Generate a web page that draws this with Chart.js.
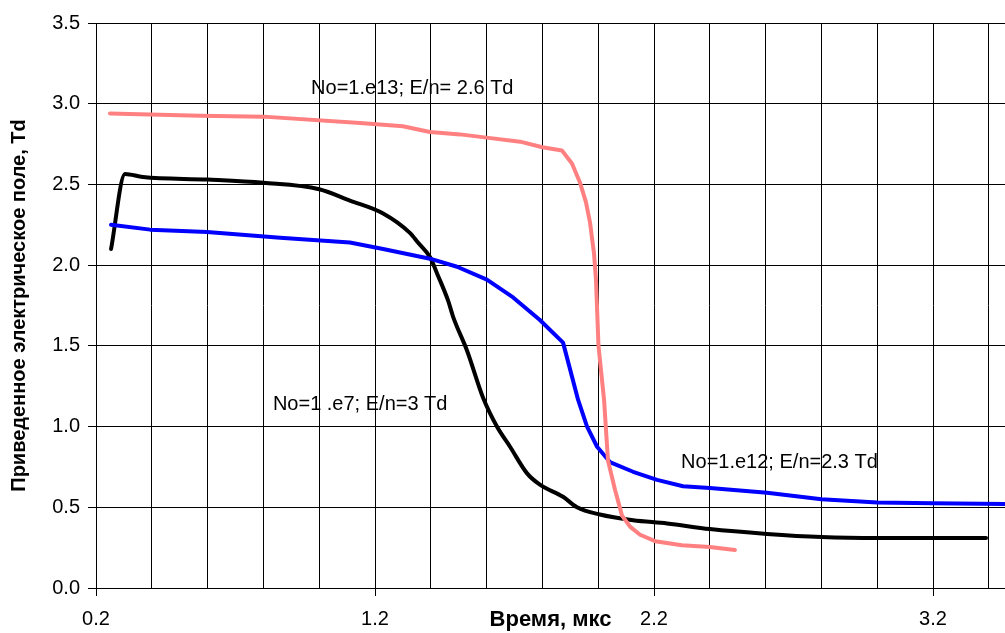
<!DOCTYPE html>
<html>
<head>
<meta charset="utf-8">
<script src="https://cdn.jsdelivr.net/npm/chart.js@4/dist/chart.umd.min.js"></script>
<style>
html,body{margin:0;padding:0;background:#fff;}
#wrap{width:1005px;height:633px;position:relative;}
</style>
</head>
<body>
<div id="wrap"><canvas id="c" width="1005" height="633"></canvas></div>
<script>
// ---- data ----
const blackX = [0.254, 0.304, 0.368, 0.60, 0.80, 1.00, 1.11, 1.229, 1.325, 1.354, 1.397, 1.422, 1.462, 1.480, 1.530, 1.587, 1.637, 1.684, 1.745, 1.791, 1.874, 1.924, 2.006, 2.125, 2.247, 2.40, 2.605, 2.80, 3.00, 3.20, 3.39];
const blackY = [2.10, 2.565, 2.546, 2.53, 2.51, 2.47, 2.40, 2.32, 2.20, 2.14, 2.05, 1.95, 1.78, 1.68, 1.47, 1.18, 1.00, 0.875, 0.71, 0.64, 0.565, 0.50, 0.455, 0.42, 0.40, 0.365, 0.335, 0.316, 0.31, 0.31, 0.31];

const blueX = [0.254, 0.394, 0.598, 0.86, 1.11, 1.229, 1.397, 1.494, 1.601, 1.695, 1.791, 1.874, 1.928, 1.96, 1.996, 2.042, 2.125, 2.211, 2.304, 2.40, 2.605, 2.80, 3.00, 3.20, 3.50];
const blueY = [2.25, 2.22, 2.205, 2.17, 2.14, 2.10, 2.04, 1.99, 1.91, 1.80, 1.66, 1.52, 1.165, 1.00, 0.875, 0.78, 0.72, 0.67, 0.63, 0.62, 0.59, 0.55, 0.53, 0.525, 0.52];

const pinkX = [0.25, 0.573, 0.80, 1.146, 1.30, 1.397, 1.505, 1.60, 1.72, 1.80, 1.87, 1.906, 1.935, 1.956, 1.971, 1.985, 1.992, 2.001, 2.021, 2.035, 2.06, 2.085, 2.114, 2.15, 2.204, 2.30, 2.40, 2.49];
const pinkY = [2.94, 2.925, 2.92, 2.88, 2.86, 2.825, 2.81, 2.79, 2.765, 2.73, 2.71, 2.63, 2.51, 2.39, 2.26, 2.07, 1.91, 1.50, 1.165, 0.79, 0.61, 0.45, 0.38, 0.33, 0.29, 0.265, 0.254, 0.235];

const xTickValues = [0.2, 0.4, 0.6, 0.8, 1.0, 1.2, 1.4, 1.6, 1.8, 2.0, 2.2, 2.4, 2.6, 2.8, 3.0, 3.2, 3.4];
const xLabelValues = [0.2, 1.2, 2.2, 3.2];

const annotations = [
  {text: 'No=1.e13; E/n= 2.6 Td', x: 0.971, y: 3.097},
  {text: 'No=1 .e7; E/n=3 Td', x: 0.834, y: 1.134},
  {text: 'No=1.e12; E/n=2.3 Td', x: 2.297, y: 0.78}
];

const FONT = "'Liberation Sans', Arial, sans-serif";

function pts(xs, ys) { return xs.map((x, i) => ({x: x, y: ys[i]})); }
function isLabeled(v) { return xLabelValues.some(l => Math.abs(l - v) < 1e-6); }

const annotationPlugin = {
  id: 'annot',
  afterDatasetsDraw(chart) {
    const ctx = chart.ctx;
    const xs = chart.scales.x, ys = chart.scales.y;
    ctx.save();
    ctx.font = '20px ' + FONT;
    ctx.fillStyle = '#000';
    ctx.textAlign = 'left';
    ctx.textBaseline = 'middle';
    annotations.forEach(a => {
      ctx.fillText(a.text, xs.getPixelForValue(a.x), ys.getPixelForValue(a.y));
    });
    ctx.restore();
  }
};

new Chart(document.getElementById('c'), {
  type: 'line',
  data: {
    datasets: [
      {data: pts(pinkX, pinkY), borderColor: '#FF8080', borderWidth: 4, tension: 0},
      {data: pts(blueX, blueY), borderColor: '#0000FF', borderWidth: 4, tension: 0},
      {data: pts(blackX, blackY), borderColor: '#000000', borderWidth: 4, cubicInterpolationMode: 'monotone'}
    ]
  },
  options: {
    responsive: false,
    animation: false,
    parsing: false,
    elements: {point: {radius: 0}, line: {borderCapStyle: 'round', borderJoinStyle: 'round'}},
    layout: {padding: {top: 23, left: 0, right: 0, bottom: 0}},
    plugins: {legend: {display: false}, tooltip: {enabled: false}},
    scales: {
      x: {
        type: 'linear',
        min: 0.2,
        max: 3.458,
        afterBuildTicks(scale) { scale.ticks = xTickValues.map(v => ({value: v})); },
        afterFit(scale) { scale.height = 45; },
        ticks: {
          autoSkip: false, maxRotation: 0, minRotation: 0,
          color: '#000', padding: 11,
          font: {family: FONT, size: 20},
          callback: (v) => isLabeled(v) ? v.toFixed(1) : ''
        },
        grid: {
          color: '#000', lineWidth: 1, tickLength: 8,
          tickColor: (ctx) => (ctx.tick && isLabeled(ctx.tick.value)) ? '#000' : 'rgba(0,0,0,0)'
        },
        border: {display: true, color: '#000', width: 1},
        title: {
          display: true, text: 'Время, мкс', color: '#000',
          font: {family: FONT, size: 22, weight: 'bold'},
          padding: {top: 0, bottom: 0}
        }
      },
      y: {
        min: 0, max: 3.5,
        afterFit(scale) { scale.width = 96; },
        ticks: {
          stepSize: 0.5, color: '#000', padding: 8,
          font: {family: FONT, size: 20},
          callback: (v) => Number(v).toFixed(1)
        },
        grid: {color: '#000', lineWidth: 1, tickLength: 8, tickColor: '#000'},
        border: {display: true, color: '#000', width: 1},
        title: {
          display: true, text: 'Приведенное электрическое поле, Td', color: '#000',
          font: {family: FONT, size: 20, weight: 'bold'},
          padding: {top: 7, bottom: 0}
        }
      }
    }
  },
  plugins: [annotationPlugin]
});
</script>
</body>
</html>
